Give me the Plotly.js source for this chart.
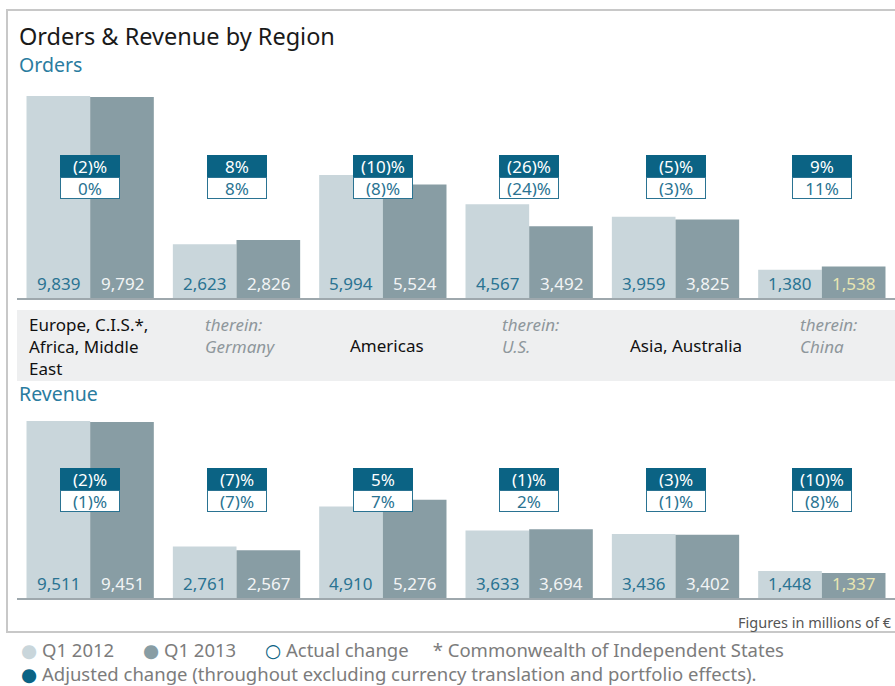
<!DOCTYPE html>
<html>
<head>
<meta charset="utf-8">
<script src="https://cdn.plot.ly/plotly-3.0.1.min.js"></script>
<style>html,body{margin:0;padding:0;background:#fff;}#chart{width:895px;height:686px;}</style>
</head>
<body>
<div id="chart"></div>
<script>
// ---- data ----
const categories = ["Europe, C.I.S.*,<br>Africa, Middle<br>East", "<i>therein:</i><br><i>Germany</i>", "Americas", "<i>therein:</i><br><i>U.S.</i>", "Asia, Australia", "<i>therein:</i><br><i>China</i>"];
const isSub = [false, true, false, true, false, true];
const ordersQ12012 = [9839, 2623, 5994, 4567, 3959, 1380];
const ordersQ12013 = [9792, 2826, 5524, 3492, 3825, 1538];
const ordersAdjusted = ["(2)%", "8%", "(10)%", "(26)%", "(5)%", "9%"];
const ordersActual = ["0%", "8%", "(8)%", "(24)%", "(3)%", "11%"];
const revenueQ12012 = [9511, 2761, 4910, 3633, 3436, 1448];
const revenueQ12013 = [9451, 2567, 5276, 3694, 3402, 1337];
const revenueAdjusted = ["(2)%", "(7)%", "5%", "(1)%", "(3)%", "(10)%"];
const revenueActual = ["(1)%", "(7)%", "7%", "2%", "(1)%", "(8)%"];

// ---- style / layout helpers ----
const W = 895, H = 686;
const px = x => x / W;
const py = y => 1 - y / H;
const FONT = "Noto Sans, Open Sans, DejaVu Sans, sans-serif";
const LIGHT = "#c9d6db", DARK = "#889da4", TEAL = "#0b6384", TEALTXT = "#2a7392";
const labelLeftPx = [27, 203, 348, 500, 628, 798];
const idx = categories.map((_, i) => i);
const fmt = v => v.toLocaleString("en-US");
const NB = "\u00a0";

function bars(vals, color, xa, ya, name) {
  return {
    type: "bar", x: idx, y: vals, name: name, xaxis: xa, yaxis: ya,
    marker: {color: color, line: {width: 0}},
    hoverinfo: "skip", showlegend: false
  };
}

const data = [
  bars(ordersQ12012, LIGHT, "x", "y", "Q1 2012"),
  bars(ordersQ12013, DARK, "x", "y", "Q1 2013"),
  bars(revenueQ12012, LIGHT, "x2", "y2", "Q1 2012"),
  bars(revenueQ12013, DARK, "x2", "y2", "Q1 2013")
];

const annotations = [];
// value labels at the foot of each bar
function valueLabels(vals, xref, yref, shift, colorFn) {
  vals.forEach((v, i) => {
    annotations.push({xref: xref, yref: yref, x: i, y: 0, xshift: shift, yshift: 15,
      xanchor: "center", yanchor: "middle", text: fmt(v), showarrow: false,
      font: {family: FONT, size: 17, color: colorFn(i)}});
  });
}
const lightCol = () => TEALTXT;
const darkCol = i => i === 5 ? "#e9e6b2" : "#f2f4f5";
valueLabels(ordersQ12012, "x", "y", -32, lightCol);
valueLabels(ordersQ12013, "x", "y", 32, darkCol);
valueLabels(revenueQ12012, "x2", "y2", -32, lightCol);
valueLabels(revenueQ12013, "x2", "y2", 32, darkCol);

function boxes(adj, act, xref, yTop, yBot) {
  idx.forEach(i => {
    annotations.push({xref: xref, x: i, yref: "paper", y: py(yTop), yanchor: "middle", text: adj[i], showarrow: false,
      bgcolor: TEAL, bordercolor: TEAL, borderwidth: 1, borderpad: 1, width: 56, height: 18,
      font: {family: FONT, size: 17, color: "#ffffff"}});
    annotations.push({xref: xref, x: i, yref: "paper", y: py(yBot), yanchor: "middle", text: act[i], showarrow: false,
      bgcolor: "#ffffff", bordercolor: "#2a7392", borderwidth: 1, borderpad: 1, width: 56, height: 18,
      font: {family: FONT, size: 17, color: TEALTXT}});
  });
}
boxes(ordersAdjusted, ordersActual, "x", 166, 188);
boxes(revenueAdjusted, revenueActual, "x2", 479, 501);

// category labels
categories.forEach((c, i) => {
  const multi = c.indexOf("<br>") >= 0;
  annotations.push({xref: "paper", x: px(labelLeftPx[i]), xanchor: "left", yref: "paper",
    y: multi ? py(311) : py(345), yanchor: multi ? "top" : "middle",
    text: c, align: "left", showarrow: false,
    font: {family: FONT, size: 17, color: isSub[i] ? "#8e979c" : "#111111"}});
});

// titles
annotations.push({xref: "paper", yref: "paper", x: px(17), y: py(36), xanchor: "left", yanchor: "middle",
  text: "Orders & Revenue by Region", showarrow: false, font: {family: FONT, size: 23.5, color: "#1a1a1a"}});
annotations.push({xref: "paper", yref: "paper", x: px(17), y: py(65), xanchor: "left", yanchor: "middle",
  text: "Orders", showarrow: false, font: {family: FONT, size: 19.5, color: "#2a7ca0"}});
annotations.push({xref: "paper", yref: "paper", x: px(17), y: py(394), xanchor: "left", yanchor: "middle",
  text: "Revenue", showarrow: false, font: {family: FONT, size: 19.5, color: "#2a7ca0"}});
annotations.push({xref: "paper", yref: "paper", x: px(894), y: py(622), xanchor: "right", yanchor: "middle",
  text: "Figures in millions of €", showarrow: false, font: {family: FONT, size: 14.5, color: "#555555"}});

// footer legend (two lines in one text block)
const LG = "#7c7c7c";
const gap = n => NB.repeat(n);
annotations.push({xref: "paper", yref: "paper", x: px(19), y: py(661), xanchor: "left", yanchor: "middle", showarrow: false,
  align: "left",
  text: `<span style="color:${LIGHT}">●</span> Q1 2012${gap(6)}<span style="color:${DARK}">●</span> Q1 2013${gap(6)}<span style="color:${TEAL}">○</span> Actual change${gap(5)}* Commonwealth of Independent States` +
        `<br><span style="color:${TEAL}">●</span> Adjusted change (throughout excluding currency translation and portfolio effects).`,
  font: {family: FONT, size: 18.5, color: LG}});

const shapes = [
  {type: "rect", xref: "paper", yref: "paper", x0: px(17), x1: 1, y0: py(381), y1: py(310),
   fillcolor: "#eeeff0", line: {width: 0}, layer: "below"},
  {type: "rect", xref: "paper", yref: "paper", x0: px(7), x1: px(905), y0: py(632), y1: py(10),
   fillcolor: "rgba(0,0,0,0)", line: {color: "#c8c8c8", width: 2}}
];

const xCommon = {range: [-0.5, 5.5], domain: [px(17), 1], showticklabels: false, ticks: "",
  showgrid: false, zeroline: false, showline: true, linecolor: "#9ea8ad", linewidth: 2, fixedrange: true};
const layout = {
  width: W, height: H, margin: {l: 0, r: 0, t: 0, b: 0},
  paper_bgcolor: "#ffffff", plot_bgcolor: "rgba(0,0,0,0)",
  barmode: "group", bargap: 0.13, bargroupgap: 0,
  showlegend: false,
  xaxis: Object.assign({anchor: "y"}, xCommon),
  xaxis2: Object.assign({anchor: "y2"}, xCommon),
  yaxis: {domain: [py(298), py(90)], range: [0, 208 / 0.02053], visible: false, fixedrange: true},
  yaxis2: {domain: [py(598), py(410)], range: [0, 188 / 0.01861], visible: false, fixedrange: true},
  annotations: annotations, shapes: shapes,
  font: {family: FONT}
};
Plotly.newPlot("chart", data, layout, {displayModeBar: false, staticPlot: true});
</script>
</body>
</html>
